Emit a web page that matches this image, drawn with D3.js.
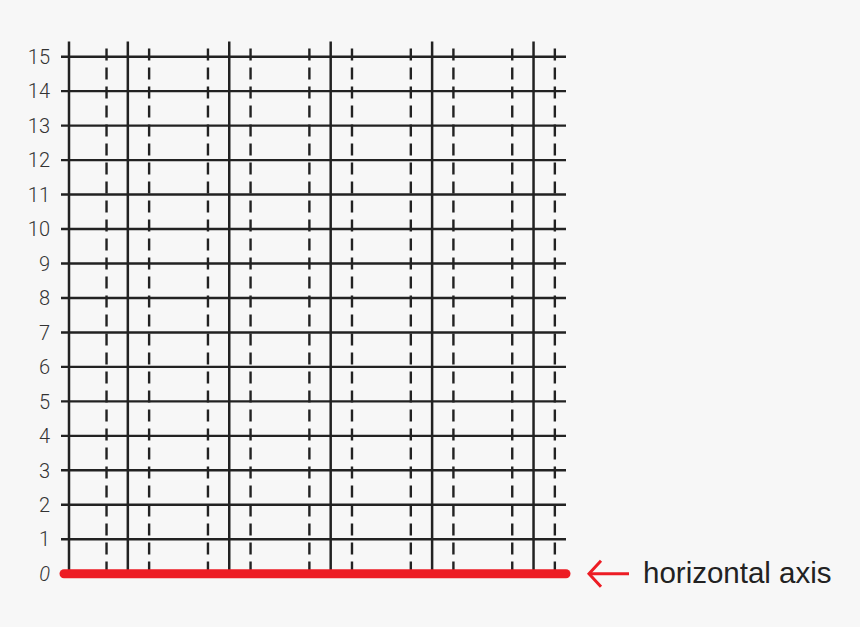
<!DOCTYPE html>
<html>
<head>
<meta charset="utf-8">
<script src="https://cdn.jsdelivr.net/npm/d3@7"></script>
<style>
  html, body { margin: 0; padding: 0; background: #f7f7f7; }
  svg { display: block; }
</style>
</head>
<body>
<svg id="chart" width="860" height="627"></svg>
<script>
// ---- data ----
const yTicks = [0, 1, 2, 3, 4, 5, 6, 7, 8, 9, 10, 11, 12, 13, 14, 15];
const yLabels = ["0", "1", "2", "3", "4", "5", "6", "7", "8", "9", "10", "11", "12", "13", "14", "15"];
const majorX = [1, 2, 3, 4, 5];
const minorX = [0.79, 1.21, 1.79, 2.21, 2.79, 3.21, 3.79, 4.21, 4.79, 5.21];
const axisLabel = "horizontal axis";

// ---- layout ----
const svg = d3.select("#chart");
const ink = "#222";
const red = "#ed1c24";

const x = d3.scaleLinear().domain([0.42, 5.32]).range([69, 566]);
const y = d3.scaleLinear().domain([0, 15]).range([573.7, 56.7]);

// horizontal grid lines (with tick stubs extending left of axis)
svg.append("g").selectAll("line")
  .data(yTicks.filter(d => d > 0))
  .join("line")
  .attr("x1", x(0.42) - 8).attr("x2", x(5.32))
  .attr("y1", d => y(d)).attr("y2", d => y(d))
  .attr("stroke", ink).attr("stroke-width", 2.4);

// dashed minor verticals
svg.append("g").selectAll("line")
  .data(minorX)
  .join("line")
  .attr("x1", d => x(d)).attr("x2", d => x(d))
  .attr("y1", y(15.24)).attr("y2", y(0.1))
  .attr("stroke", ink).attr("stroke-width", 2.4)
  .attr("stroke-dasharray", "12,7");

// solid major verticals, plus the vertical axis
svg.append("g").selectAll("line")
  .data([0.42].concat(majorX))
  .join("line")
  .attr("x1", d => x(d)).attr("x2", d => x(d))
  .attr("y1", y(15.44)).attr("y2", y(0))
  .attr("stroke", ink).attr("stroke-width", 2.5);

// red horizontal axis
svg.append("line")
  .attr("x1", x(0.42) - 5).attr("x2", x(5.32))
  .attr("y1", y(0)).attr("y2", y(0))
  .attr("stroke", red).attr("stroke-width", 9)
  .attr("stroke-linecap", "round");

// y tick labels
svg.append("g").selectAll("text")
  .data(yTicks)
  .join("text")
  .attr("x", 50)
  .attr("y", d => y(d))
  .attr("dy", "0.36em")
  .attr("text-anchor", "end")
  .attr("font-family", "Roboto, 'Liberation Sans', Arial, sans-serif")
  .attr("font-weight", 300)
  .attr("font-size", 20)
  .attr("font-style", d => d === 0 ? "italic" : "normal")
  .attr("fill", "#333")
  .text((d, i) => yLabels[i]);

// arrow pointing to axis
const ay = y(0);
svg.append("line")
  .attr("x1", 590).attr("x2", 629)
  .attr("y1", ay).attr("y2", ay)
  .attr("stroke", red).attr("stroke-width", 3);
svg.append("path")
  .attr("d", `M601,${ay - 13} L589,${ay} L601,${ay + 13}`)
  .attr("fill", "none")
  .attr("stroke", red).attr("stroke-width", 3);

// label
svg.append("text")
  .attr("x", 643).attr("y", ay + 9)
  .attr("font-family", "'Liberation Sans', Arial, sans-serif")
  .attr("font-size", 29.5)
  .attr("fill", "#222")
  .text(axisLabel);
</script>
</body>
</html>
